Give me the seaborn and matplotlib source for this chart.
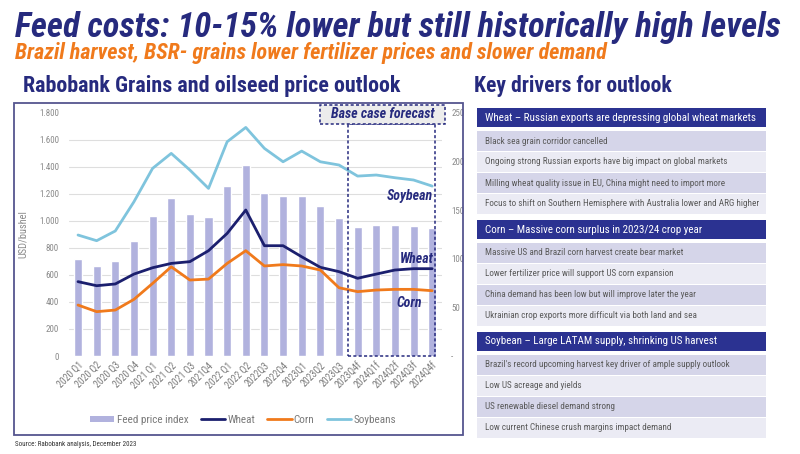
import numpy as np
import pandas as pd
import matplotlib
matplotlib.use("Agg")
import matplotlib.pyplot as plt
import seaborn as sns
from matplotlib import font_manager as fm
from matplotlib.patches import Rectangle, Patch
from matplotlib.lines import Line2D
import matplotlib.transforms as mtransforms
from matplotlib.ticker import FixedLocator, FuncFormatter, FixedFormatter

# ---------------- data ----------------
quarters = ["2020 Q1", "2020 Q2", "2020 Q3", "2020 Q4", "2021 Q1", "2021 Q2", "2021 Q3",
            "2021Q4", "2022 Q1", "2022 Q2", "2022Q3", "2022Q4", "2023Q1", "2023Q2",
            "2023Q3", "2023Q4f", "2024Q1f", "2024Q2f", "2024Q3f", "2024Q4f"]
feed_index = [100, 92, 98, 118, 144, 162, 146, 143, 175, 196, 168, 164, 164, 154,
              142, 133, 135, 135, 134, 132]
wheat = [550, 520, 533, 606, 653, 685, 698, 779, 907, 1080, 816, 816, 734, 656,
         624, 575, 606, 636, 646, 646]
corn = [377, 328, 340, 419, 537, 660, 562, 569, 685, 779, 666, 676, 666, 636,
        505, 476, 488, 493, 493, 483]
soybeans = [895, 853, 925, 1141, 1388, 1499, 1376, 1240, 1585, 1691, 1536, 1437, 1516,
            1437, 1413, 1331, 1339, 1319, 1302, 1257]
left_ticks = list(range(0, 1801, 200))
right_ticks = [0, 50, 100, 150, 200, 250]
right_tick_labels = ["-", "50", "100", "150", "200", "250"]
forecast_start = "2023Q4f"

title = "Feed costs: 10-15% lower but still historically high levels"
subtitle = "Brazil harvest, BSR- grains lower fertilizer prices and slower demand"
chart_title = "Rabobank Grains and oilseed price outlook"
panel_title = "Key drivers for outlook"
source = "Source: Rabobank analysis, December 2023"

wheat_header = "Wheat \u2013 Russian exports are depressing global wheat markets"
wheat_points = ["Black sea grain corridor cancelled",
                "Ongoing strong Russian exports have big impact on global markets",
                "Milling wheat quality issue in EU, China might need to import more",
                "Focus to shift on Southern Hemisphere with Australia lower and ARG higher"]
corn_header = "Corn \u2013 Massive corn surplus in 2023/24 crop year"
corn_points = ["Massive US and Brazil corn harvest create bear market",
               "Lower fertilizer price will support US corn expansion",
               "China demand has been low but will improve later the year",
               "Ukrainian crop exports more difficult via both land and sea"]
soy_header = "Soybean \u2013 Large LATAM supply, shrinking US harvest"
soy_points = ["Brazil's record upcoming harvest key driver of ample supply outlook",
              "Low US acreage and yields",
              "US renewable diesel demand strong",
              "Low current Chinese crush margins impact demand"]

# ---------------- style ----------------
sns.set_style("white")


def pick(names):
    for n in names:
        try:
            fm.findfont(fm.FontProperties(family=n), fallback_to_default=False)
            return n
        except Exception:
            pass
    return "DejaVu Sans"


narrow = pick(["Liberation Sans Narrow", "Roboto Condensed", "Open Sans Condensed", "Liberation Sans"])
plt.rcParams["font.family"] = [narrow, "DejaVu Sans"]

NAVY = "#262a7e"
ORANGE = "#f07a1c"
BAR = "#b1b2de"
WHEAT_C = "#1b1f6e"
CORN_C = "#f07a1c"
SOY_C = "#7fc4dd"
GRAY = "#7a7a7a"
TICKGRAY = "#8a8a8a"
HEADER = "#2b3291"
ROW_DARK = "#d5d5e9"
ROW_LIGHT = "#ebebf4"

W, H = 800, 454
fig = plt.figure(figsize=(W / 100, H / 100), dpi=100)


def fx(px):
    return px / W


def fy(py):
    return 1 - py / H


renderer = fig.canvas.get_renderer()


def fit(t, target_w):
    bb = t.get_window_extent(renderer)
    t.set_fontsize(t.get_fontsize() * target_w / bb.width)


# ---------------- titles ----------------
t = fig.text(fx(15), fy(37), title, fontsize=22, fontweight="bold", fontstyle="italic",
             color=NAVY, va="baseline", ha="left")
fit(t, 766)
t = fig.text(fx(15), fy(59), subtitle, fontsize=14, fontweight="bold", fontstyle="italic",
             color=ORANGE, va="baseline", ha="left")
fit(t, 596)
t = fig.text(fx(23), fy(92), chart_title, fontsize=14, fontweight="bold",
             color=NAVY, va="baseline", ha="left")
fit(t, 378)
t = fig.text(fx(474), fy(92), panel_title, fontsize=14, fontweight="bold",
             color=NAVY, va="baseline", ha="left")
fit(t, 198)

# chart frame
fig.patches.append(Rectangle((fx(14), fy(435)), fx(463) - fx(14), (435 - 103) / H,
                             transform=fig.transFigure, fill=False, edgecolor="#55558f",
                             linewidth=1.3))
fig.text(fx(15), fy(445), source, fontsize=5, color="#333333", va="center", ha="left")

# ---------------- chart ----------------
ax = fig.add_axes([fx(68.7), fy(356), (441.5 - 68.7) / W, (356 - 112.7) / H])
sns.barplot(x=quarters, y=feed_index, ax=ax, color=BAR, width=0.43, saturation=1, zorder=2)
ax.set_ylim(0, 250)
ax.grid(False)
ax.set_ylabel("")
ax.set_xlabel("")
for s in ax.spines.values():
    s.set_visible(False)

axl = ax.twinx()
xs = np.arange(len(quarters))
sns.lineplot(x=xs, y=soybeans, ax=axl, color=SOY_C, linewidth=2)
sns.lineplot(x=xs, y=wheat, ax=axl, color=WHEAT_C, linewidth=2)
sns.lineplot(x=xs, y=corn, ax=axl, color=CORN_C, linewidth=2)
axl.set_ylim(0, 1800)
for s in axl.spines.values():
    s.set_visible(False)
axl.grid(False)

# bar axis -> right side ticks (after twinx, which resets sides)
ax.yaxis.tick_right()
ax.yaxis.set_label_position("right")
ax.yaxis.set_major_locator(FixedLocator(right_ticks))
ax.yaxis.set_major_formatter(FixedFormatter(right_tick_labels))
ax.yaxis.set_minor_locator(FixedLocator(np.array(left_ticks) * 250 / 1800))
ax.grid(which="minor", axis="y", color="#dedede", linewidth=0.8, zorder=0)
ax.set_axisbelow(True)
ax.tick_params(axis="both", which="both", length=0)
ax.tick_params(axis="y", which="major", labelsize=6.5, labelcolor=TICKGRAY, pad=7,
               left=False, labelleft=False, right=False, labelright=True)
ax.set_xticks(range(len(quarters)))
ax.set_xticklabels(quarters, rotation=45, ha="right", rotation_mode="anchor",
                   fontsize=7, color=GRAY)
ax.tick_params(axis="x", pad=3)
ax.set_xlim(-0.5, len(quarters) - 0.5)

# line axis -> left side ticks
axl.yaxis.tick_left()
axl.yaxis.set_label_position("left")
axl.yaxis.set_major_locator(FixedLocator(left_ticks))
axl.yaxis.set_major_formatter(FuncFormatter(lambda v, p: f"{int(v):,}".replace(",", ".")))
axl.tick_params(axis="y", length=0, labelsize=6.5, labelcolor=TICKGRAY, pad=7,
                right=False, labelright=False, left=False, labelleft=True)
axl.set_ylabel("USD/bushel", fontsize=7.5, color=TICKGRAY)
axl.yaxis.set_label_coords(-0.11, 0.5)

# forecast box
fi = quarters.index(forecast_start)
bt = mtransforms.blended_transform_factory(ax.transData, ax.transAxes)
axl.add_patch(Rectangle((fi - 0.5, 0), (len(quarters) - 1 + 0.15) - (fi - 0.5), 0.9535,
                        transform=bt, fill=False, edgecolor=NAVY, linestyle=(0, (2, 1.5)),
                        linewidth=1.1, clip_on=False, zorder=5))
axl.add_patch(Rectangle((fi - 2, 0.9535), 6.7, 0.08, transform=bt, facecolor="#ececec",
                        edgecolor=NAVY, linestyle=(0, (2, 1.5)), linewidth=1.1,
                        clip_on=False, zorder=6))
t = axl.text(fi - 2 + 3.35, 0.9535 + 0.04, "Base case forecast", transform=bt,
             ha="center", va="center", fontsize=9, fontweight="bold", fontstyle="italic",
             color=NAVY, zorder=7, clip_on=False)
fit(t, 104)

for lab, yfrac, xr in [("Soybean", (356 - 196) / 243.3, 19.05),
                       ("Wheat", (356 - 259) / 243.3, 19.05),
                       ("Corn", (356 - 303) / 243.3, 18.45)]:
    axl.text(xr, yfrac, lab, transform=bt, ha="right", va="center", fontsize=10,
             fontweight="bold", fontstyle="italic", color=NAVY, zorder=7)

# legend
handles = [Patch(facecolor=BAR, edgecolor="none"),
           Line2D([], [], color=WHEAT_C, lw=2),
           Line2D([], [], color=CORN_C, lw=2),
           Line2D([], [], color=SOY_C, lw=2)]
fig.legend(handles, ["Feed price index", "Wheat", "Corn", "Soybeans"], loc="center",
           bbox_to_anchor=(fx(243), fy(420)), ncol=4, frameon=False, fontsize=8,
           labelcolor=GRAY, handlelength=2.2, handleheight=0.5, handletextpad=0.2,
           columnspacing=1.1)

# ---------------- right panel ----------------
groups = [(wheat_header, wheat_points), (corn_header, corn_points), (soy_header, soy_points)]
x0, x1 = 477, 766
row_texts = []
head_texts = []
for g, (hdr, pts) in enumerate(groups):
    top = 108 + g * 111.8
    fig.patches.append(Rectangle((fx(x0), fy(top + 19)), (x1 - x0) / W, 19 / H,
                                 transform=fig.transFigure, facecolor=HEADER, edgecolor="none"))
    head_texts.append(fig.text(fx(485), fy(top + 9.8), hdr, color="white", fontsize=9,
                               va="center", ha="left"))
    for k, p in enumerate(pts):
        rt = top + 23 + k * 21
        fig.patches.append(Rectangle((fx(x0), fy(rt + 20)), (x1 - x0) / W, 20 / H,
                                     transform=fig.transFigure,
                                     facecolor=ROW_DARK if k % 2 == 0 else ROW_LIGHT,
                                     edgecolor="none"))
        row_texts.append(fig.text(fx(485), fy(rt + 10), p, color="#5a5a5a", fontsize=7,
                                  va="center", ha="left"))

bb = head_texts[0].get_window_extent(renderer)
hs = 9 * 272 / bb.width
for t in head_texts:
    t.set_fontsize(hs)
bb = row_texts[3].get_window_extent(renderer)
rs = 7 * 272 / bb.width
for t in row_texts:
    t.set_fontsize(rs)

fig.savefig("out.png", dpi=100)
